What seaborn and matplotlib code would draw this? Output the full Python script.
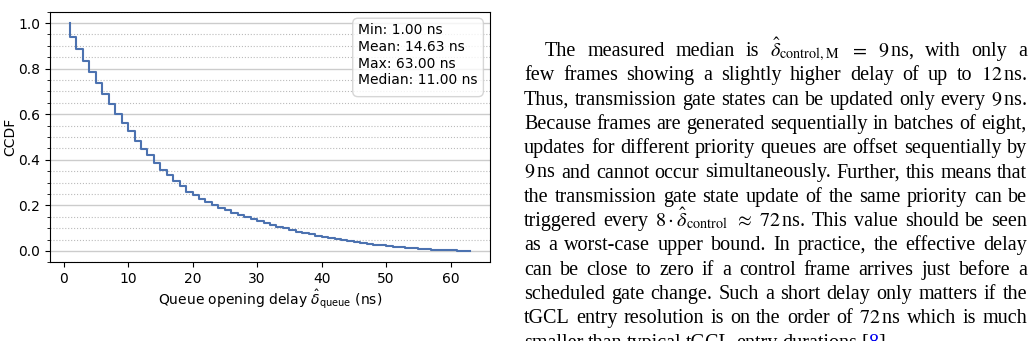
import numpy as np
import pandas as pd
import matplotlib
matplotlib.use("Agg")
import matplotlib.pyplot as plt
from matplotlib.patches import FancyBboxPatch
from matplotlib.ticker import MultipleLocator
import seaborn as sns

# Queue opening delay values (ns) and CCDF level right after each value
delay_ns = list(range(1, 64))
ccdf_level = [0.940, 0.885, 0.835, 0.787, 0.739, 0.689, 0.646, 0.600, 0.561, 0.526,
              0.484, 0.449, 0.419, 0.386, 0.357, 0.332, 0.305, 0.284, 0.259, 0.244,
              0.228, 0.215, 0.202, 0.190, 0.178, 0.167, 0.157, 0.148, 0.139, 0.130,
              0.122, 0.114, 0.106, 0.099, 0.092, 0.085, 0.079, 0.073, 0.067, 0.062,
              0.057, 0.052, 0.047, 0.043, 0.039, 0.035, 0.031, 0.028, 0.025, 0.022,
              0.019, 0.017, 0.014, 0.012, 0.010, 0.008, 0.006, 0.005, 0.003, 0.002,
              0.001, 0.0005, 0.0]

stats_labels = ["Min: 1.00 ns", "Mean: 14.63 ns", "Max: 63.00 ns", "Median: 11.00 ns"]
y_ticks = [0.0, 0.2, 0.4, 0.6, 0.8, 1.0]
x_ticks = [0, 10, 20, 30, 40, 50, 60]

# Text column next to the figure (one entry per printed line);
# a word given as a list is made of (text, colour) parts glued together
page_lines = [
    ["The", "measured", "median", "is", r"$\hat{\delta}_{\mathrm{control,M}}$", "$=$",
     r"$9\,$ns,", "with", "only", "a"],
    "few frames showing a slightly higher delay of up to".split() + [r"$12\,$ns."],
    "Thus, transmission gate states can be updated only every".split() + [r"$9\,$ns."],
    "Because frames are generated sequentially in batches of eight,".split(),
    "updates for different priority queues are offset sequentially by".split(),
    [r"$9\,$ns"] + "and cannot occur simultaneously. Further, this means that".split(),
    "the transmission gate state update of the same priority can be".split(),
    ["triggered", "every", r"$8\cdot\hat{\delta}_{\mathrm{control}}$", r"$\approx$",
     r"$72\,$ns.", "This", "value", "should", "be", "seen"],
    "as a worst-case upper bound. In practice, the effective delay".split(),
    "can be close to zero if a control frame arrives just before a".split(),
    "scheduled gate change. Such a short delay only matters if the".split(),
    "tGCL entry resolution is on the order of".split() + [r"$72\,$ns"] + "which is much".split(),
    "smaller than typical tGCL entry durations".split()
    + [[("[", "black"), ("8", "#0000ee"), ("].", "black")]],
]

W, H = 1032, 341
fig = plt.figure(figsize=(W / 100, H / 100), dpi=100)
ax = fig.add_axes([50 / W, (H - 262.3) / H, 440 / W, 250.6 / H])

# weights per delay value, derived from the CCDF levels
weights = [1.0 - ccdf_level[0]] + [ccdf_level[i - 1] - ccdf_level[i] for i in range(1, len(ccdf_level))]
df = pd.DataFrame({"delay": delay_ns, "w": weights})
sns.ecdfplot(data=df, x="delay", weights="w", complementary=True, ax=ax,
             color="#4c72b0", linewidth=1.5)

ax.set_xlim(-2.1, 66.1)
ax.set_ylim(-0.05, 1.05)
ax.set_xticks(x_ticks)
ax.set_yticks(y_ticks)
ax.yaxis.set_minor_locator(MultipleLocator(0.05))
ax.grid(axis="y", which="major", color="#cccccc", linewidth=1.0)
ax.grid(axis="y", which="minor", color="#bbbbbb", linestyle=":", linewidth=0.8)
ax.set_axisbelow(True)
ax.tick_params(labelsize=10)
ax.set_xlabel(r"Queue opening delay $\hat{\delta}_{\mathrm{queue}}$ (ns)", fontsize=10, labelpad=1)
ax.set_ylabel("CCDF", fontsize=10)
ax.yaxis.set_label_coords(-0.075, 0.5)

# stats box
ax.add_patch(FancyBboxPatch((0.688, 0.661), 0.297, 0.313, transform=ax.transAxes,
                            boxstyle="round,pad=0,rounding_size=0.012",
                            mutation_aspect=440 / 250.6, facecolor="white",
                            edgecolor="#cccccc", alpha=0.8, linewidth=1.0, zorder=4))
ax.text(0.701, 0.954, "\n".join(stats_labels), transform=ax.transAxes,
        ha="left", va="top", multialignment="left", fontsize=10, linespacing=1.25,
        zorder=5)

# justified text column
fig.canvas.draw()
renderer = fig.canvas.get_renderer()
left_px, right_px, indent_px = 524, 1027, 21
first_base, line_step = 56, 24.3
for i, words in enumerate(page_lines):
    y = 1 - (first_base + i * line_step) / H
    groups = []
    for w in words:
        parts = w if isinstance(w, list) else [(w, "black")]
        objs = [fig.text(0, y, txt, fontsize=14.5, family="Liberation Serif",
                         math_fontfamily="stix", va="baseline", color=c)
                for txt, c in parts]
        groups.append(objs)
    widths = [[o.get_window_extent(renderer).width for o in g] for g in groups]
    x0 = left_px + (indent_px if i == 0 else 0)
    total = sum(sum(ws) for ws in widths)
    if i < len(page_lines) - 1:
        gap = (right_px - x0 - total) / (len(groups) - 1)
    else:
        gap = 4.5
    x = x0
    for g, ws in zip(groups, widths):
        for o, wd in zip(g, ws):
            o.set_x(x / W)
            x += wd
        x += gap

fig.savefig("out.png", dpi=100)
